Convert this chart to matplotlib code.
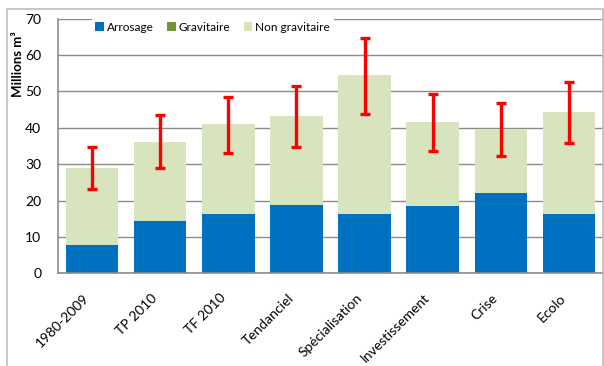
import matplotlib.pyplot as plt
import matplotlib.transforms as mtransforms
import numpy as np
from matplotlib.patches import Rectangle

# Data (millions m3)
scenarios = ['1980-2009', 'TP 2010', 'TF 2010', 'Tendanciel', 'Spécialisation',
             'Investissement', 'Crise', 'Ecolo']
arrosage = [7.9, 14.4, 16.3, 18.9, 16.3, 18.6, 22.1, 16.3]
gravitaire = [0, 0, 0, 0, 0, 0, 0, 0]
total = [29.0, 36.1, 41.0, 43.2, 54.4, 41.6, 39.6, 44.4]
err_low = [23.2, 28.8, 33.1, 34.6, 43.8, 33.7, 32.3, 35.7]
err_high = [34.6, 43.5, 48.4, 51.5, 64.6, 49.3, 46.7, 52.6]

non_gravitaire = [t - a - g for t, a, g in zip(total, arrosage, gravitaire)]

plt.rcParams['font.family'] = ['Lato', 'DejaVu Sans']

W, H = 604, 366
fig = plt.figure(figsize=(W / 100, H / 100), dpi=100)

# outer chart border
fig.patches.append(Rectangle((7 / W, -0.1), (603 - 7) / W, 1.1 - 9 / H,
                             transform=fig.transFigure, fill=False,
                             edgecolor='#bdbdbd', linewidth=1.2))

ax = fig.add_axes([58 / W, 1 - 273.3 / H, (603 - 58) / W, (273.3 - 18.5) / H])

x = np.arange(len(scenarios))
width = 0.77
ax.bar(x, arrosage, width, color='#0070C0', label='Arrosage', zorder=2)
ax.bar(x, gravitaire, width, bottom=arrosage, color='#77933C', label='Gravitaire', zorder=2)
bottom2 = [a + g for a, g in zip(arrosage, gravitaire)]
ax.bar(x, non_gravitaire, width, bottom=bottom2, color='#D7E4BD',
       label='Non gravitaire', zorder=2)

# error bars around the totals
yerr = [[t - lo for t, lo in zip(total, err_low)],
        [hi - t for t, hi in zip(total, err_high)]]
ax.errorbar(x, total, yerr=yerr, fmt='none', ecolor='#FF0000', elinewidth=2.4,
            capsize=3.5, capthick=2.4, zorder=3)

ax.set_xlim(-0.5, len(scenarios) - 0.5)
ax.set_ylim(0, 70)
ax.set_yticks(range(0, 71, 10))
ax.yaxis.grid(True, color='#8c8c8c', linewidth=1.0, zorder=0)
ax.set_axisbelow(True)

for s in ['top', 'right']:
    ax.spines[s].set_visible(False)
for s in ['left', 'bottom']:
    ax.spines[s].set_color('#8c8c8c')
    ax.spines[s].set_linewidth(1.2)

ax.tick_params(axis='y', length=0, labelsize=10, pad=12)
ax.tick_params(axis='x', length=0, labelsize=10, pad=6)
ax.set_xticks(x)
ax.set_xticklabels(scenarios, rotation=45, ha='right', rotation_mode='anchor')
shift = mtransforms.ScaledTranslation(-9 / 100, -10 / 100, fig.dpi_scale_trans)
for lab in ax.get_xticklabels():
    lab.set_transform(lab.get_transform() + shift)

ax.set_ylabel('Millions m³', fontsize=9.5, fontweight='bold')
ax.yaxis.set_label_coords(-0.062, 0.82)

leg = ax.legend(loc='upper center', bbox_to_anchor=(0.284, 1.025), ncol=3,
                frameon=True, fontsize=8.5, handlelength=0.75, handleheight=0.75,
                handletextpad=0.25, columnspacing=1.1, borderpad=0.3)
leg.get_frame().set_edgecolor('none')
leg.get_frame().set_facecolor('white')
leg.get_frame().set_alpha(1)

fig.savefig('out.png', dpi=100)
